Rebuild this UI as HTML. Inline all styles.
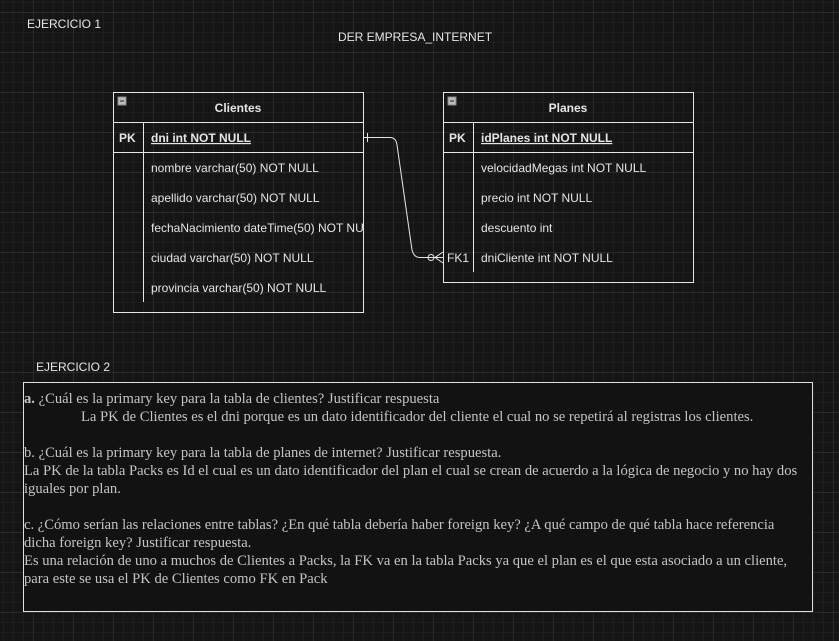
<!DOCTYPE html>
<html><head><meta charset="utf-8"><style>
body{margin:0;width:839px;height:641px;overflow:hidden;background:#151515;
background-image:linear-gradient(#2a2a2a 1px,transparent 1px),linear-gradient(90deg,#2a2a2a 1px,transparent 1px),linear-gradient(#1e1e1e 1px,transparent 1px),linear-gradient(90deg,#1e1e1e 1px,transparent 1px);
background-size:40px 40px,40px 40px,10px 10px,10px 10px;background-position:33px 12px,33px 12px,3px 2px,3px 2px;position:relative;font-family:"Liberation Sans",sans-serif}
svg{position:absolute;left:0;top:0}
.box{position:absolute;left:23px;top:382px;border:1px solid #e0e0e0;background:#121212;color:#c4c4c4;font-family:"Liberation Serif",serif;font-size:14.6px;line-height:18px;padding-top:7px;padding-right:8px;box-sizing:border-box;height:230px;width:790px}
.box p{margin:0}
</style></head><body>
<svg width="839" height="641" font-family="Liberation Sans, sans-serif" font-size="12" fill="#e6e6e6">
<text x="27" y="28">EJERCICIO 1</text>
<text x="338" y="41">DER EMPRESA_INTERNET</text>
<text x="36" y="371">EJERCICIO 2</text>
<g stroke="#e6e6e6" fill="none">
<rect x="113.5" y="92.5" width="250" height="220"/>
<line x1="113" y1="122.5" x2="363" y2="122.5"/>
<line x1="113" y1="152.5" x2="363" y2="152.5"/>
<line x1="143.5" y1="122" x2="143.5" y2="302"/>
<rect x="443.5" y="92.5" width="250" height="190"/>
<line x1="443" y1="122.5" x2="693" y2="122.5"/>
<line x1="443" y1="152.5" x2="693" y2="152.5"/>
<line x1="473.5" y1="122" x2="473.5" y2="272"/>
<path d="M364 137.5 H390 Q396 137.5 397 145 L412 250 Q414 257.5 420 257.5 H443"/>
<line x1="367.5" y1="133" x2="367.5" y2="142"/>
<circle cx="431" cy="257.5" r="3"/>
<path d="M443 252 L435 257.5 L443 263"/>
</g>
<rect x="118" y="97" width="8" height="8" fill="#bbb" stroke="#888"/><line x1="120" y1="101" x2="124" y2="101" stroke="#222"/>
<rect x="448" y="97" width="8" height="8" fill="#bbb" stroke="#888"/><line x1="450" y1="101" x2="454" y2="101" stroke="#222"/>
<g font-weight="bold">
<text x="238" y="112" text-anchor="middle">Clientes</text>
<text x="568" y="112" text-anchor="middle">Planes</text>
<text x="119" y="142">PK</text>
<text x="449" y="142">PK</text>
<text x="151" y="142" text-decoration="underline">dni int NOT NULL</text>
<text x="481" y="142" text-decoration="underline">idPlanes int NOT NULL</text>
</g>
<text x="151" y="172">nombre varchar(50) NOT NULL</text>
<text x="151" y="202">apellido varchar(50) NOT NULL</text>
<text x="151" y="232">fechaNacimiento dateTime(50) NOT NU</text>
<text x="151" y="262">ciudad varchar(50) NOT NULL</text>
<text x="151" y="292">provincia varchar(50) NOT NULL</text>
<text x="481" y="172">velocidadMegas int NOT NULL</text>
<text x="481" y="202">precio int NOT NULL</text>
<text x="481" y="232">descuento int</text>
<text x="481" y="262">dniCliente int NOT NULL</text>
<text x="447" y="262">FK1</text>
</svg>
<div class="box">
<p><b>a.</b> ¿Cuál es la primary key para la tabla de clientes? Justificar respuesta</p>
<p style="padding-left:57px">La PK de Clientes es el dni porque es un dato identificador del cliente el cual no se repetirá al registras los clientes.</p>
<p>&nbsp;</p>
<p>b. ¿Cuál es la primary key para la tabla de planes de internet? Justificar respuesta.</p>
<p>La PK de la tabla Packs es Id el cual es un dato identificador del plan el cual se crean de acuerdo a la lógica de negocio y no hay dos iguales por plan.</p>
<p>&nbsp;</p>
<p>c. ¿Cómo serían las relaciones entre tablas? ¿En qué tabla debería haber foreign key? ¿A qué campo de qué tabla hace referencia dicha foreign key? Justificar respuesta.</p>
<p>Es una relación de uno a muchos de Clientes a Packs, la FK va en la tabla Packs ya que el plan es el que esta asociado a un cliente, para este se usa el PK de Clientes como FK en Pack</p>
</div>
</body></html>
